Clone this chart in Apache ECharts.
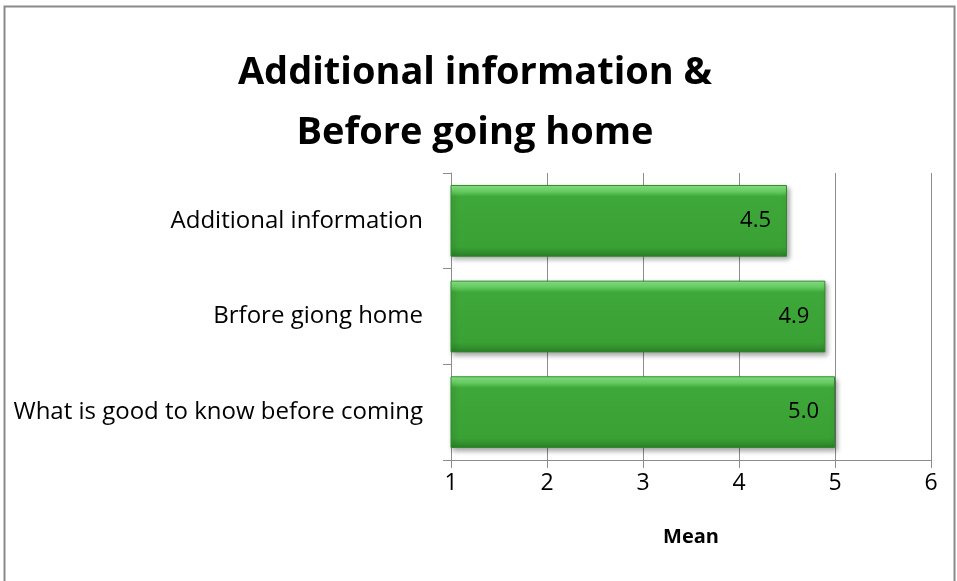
<!DOCTYPE html>
<html>
<head>
<meta charset="utf-8">
<script src="https://cdn.jsdelivr.net/npm/echarts@6/dist/echarts.min.js"></script>
<style>
  html, body { margin: 0; padding: 0; background: #fff; }
  #chart { width: 957px; height: 581px; }
</style>
</head>
<body>
<div id="chart"></div>
<script>
// data
const categories = ['Additional information', 'Brfore giong home', 'What is good to know before coming']
const meanValues = [4.5, 4.9, 5.0]
const xTicks = { min: 1, max: 6, interval: 1 }

const chart = echarts.init(document.getElementById('chart'))
const font = '"Open Sans", Lato, sans-serif'

// bar fill with a bevel look
const barFill = new echarts.graphic.LinearGradient(0, 0, 0, 1, [
  { offset: 0, color: '#8ae88a' },
  { offset: 0.08, color: '#6fd66a' },
  { offset: 0.16, color: '#3fa83a' },
  { offset: 0.86, color: '#3aa135' },
  { offset: 0.94, color: '#318f2d' },
  { offset: 1, color: '#2a7d27' }
])

const option = {
  animation: false,
  textStyle: { fontFamily: font },
  title: {
    text: 'Additional information &\nBefore going home',
    left: 470,
    textAlign: 'center',
    top: 38,
    textStyle: {
      fontSize: 38,
      fontWeight: 'bold',
      color: '#000',
      lineHeight: 60,
      fontFamily: font
    }
  },
  graphic: [{
    type: 'rect',
    shape: { x: 4.5, y: 6.5, width: 950, height: 600 },
    style: { fill: 'none', stroke: '#8a8a8a', lineWidth: 2 },
    silent: true
  }],
  grid: { left: 451, right: 26, top: 173, bottom: 121 },
  xAxis: {
    type: 'value',
    min: xTicks.min,
    max: xTicks.max,
    interval: xTicks.interval,
    name: 'Mean',
    nameLocation: 'middle',
    nameGap: 67,
    nameTextStyle: { fontSize: 20, fontWeight: 'bold', color: '#000', fontFamily: font },
    axisLine: { show: true, lineStyle: { color: '#8c8c8c', width: 1 } },
    axisTick: { show: true, length: 8, lineStyle: { color: '#8c8c8c' } },
    axisLabel: { fontSize: 23, color: '#000', margin: 12 },
    splitLine: { show: true, lineStyle: { color: '#8c8c8c', width: 1 } }
  },
  yAxis: {
    type: 'category',
    inverse: true,
    data: categories,
    axisLine: { show: true, lineStyle: { color: '#8c8c8c', width: 1 } },
    axisTick: { show: true, length: 8, lineStyle: { color: '#8c8c8c' } },
    axisLabel: { fontSize: 24, color: '#000', margin: 28 }
  },
  series: [{
    type: 'bar',
    data: meanValues,
    barWidth: '75%',
    itemStyle: {
      color: barFill,
      borderColor: '#2e8a2a',
      borderWidth: 1,
      shadowColor: 'rgba(0,0,0,0.35)',
      shadowBlur: 5,
      shadowOffsetX: 2,
      shadowOffsetY: 3
    },
    label: {
      show: true,
      position: 'insideRight',
      distance: 16,
      fontSize: 22,
      color: '#000',
      formatter: p => p.value.toFixed(1)
    }
  }]
}

chart.setOption(option)
</script>
</body>
</html>
